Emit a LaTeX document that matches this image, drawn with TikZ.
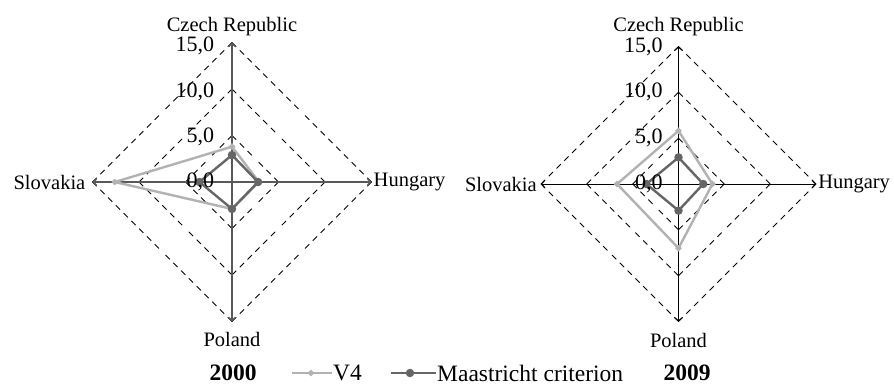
\documentclass[tikz,border=0pt]{standalone}
\usepackage{fontspec}
\setmainfont{Liberation Serif}
\usetikzlibrary{arrows.meta, positioning}

\tikzset{
  ring/.style={black, line width=0.9pt, dash pattern=on 6pt off 5pt},
  axisdark/.style={black!65, line width=1.6pt, ->},
  axisthin/.style={black, line width=1pt, ->},
  v4line/.style={black!30, line width=2.4pt, line join=round},
  mcline/.style={black!60, line width=2.4pt, line join=round},
  v4mark/.style={diamond, fill=black!30, inner sep=0pt, minimum size=7pt},
  mcmark/.style={circle, fill=black!60, inner sep=0pt, minimum size=8.5pt},
  val/.style={anchor=east, inner sep=0pt, font=\fontsize{22}{24}\selectfont},
  cty/.style={inner sep=1pt},
  key/.style={font=\fontsize{23.5}{26}\selectfont}
}
\usetikzlibrary{shapes.geometric}

\begin{document}
\begin{tikzpicture}[x=1pt, y=-1pt, font=\fontsize{20.5}{24}\selectfont,
    >={Straight Barb[length=3pt, width=7pt]}]
    \useasboundingbox (0,0) rectangle (894,388);

    % 2000
    \begin{scope}[shift={(232,182)}, x=9.3pt, y=9.3pt]
        \path (0,0) coordinate (l-o)
              (0,15) coordinate (l-n) (15,0) coordinate (l-e)
              (0,-15) coordinate (l-s) (-15,0) coordinate (l-w);
        \foreach \r in {5,10,15}
            \foreach \ang in {0,90,180,270} {
                \draw[ring] (\ang:\r) -- (\ang+45:{\r*0.7071});
                \draw[ring] (\ang:\r) -- (\ang-45:{\r*0.7071});
            }
        \draw[axisdark] (l-o) -- (l-n);
        \draw[axisdark] (l-o) -- (l-e);
        \draw[axisdark] (l-o) -- (l-s);
        \draw[axisdark] (l-o) -- (l-w);

        \path (0,3.8) coordinate (l-v4-cz) (2.9,0) coordinate (l-v4-hu)
              (0,-2.9) coordinate (l-v4-pl) (-12.6,0) coordinate (l-v4-sk);
        \path (0,2.9) coordinate (l-mc-cz) (2.8,0) coordinate (l-mc-hu)
              (0,-2.9) coordinate (l-mc-pl) (-3.5,0) coordinate (l-mc-sk);
        \draw[v4line] (l-v4-cz) -- (l-v4-hu) -- (l-v4-pl) -- (l-v4-sk) -- cycle;
        \node[v4mark] (l-v4-cz-m) at (l-v4-cz) {};
        \node[v4mark] (l-v4-hu-m) at (l-v4-hu) {};
        \node[v4mark] (l-v4-pl-m) at (l-v4-pl) {};
        \node[v4mark] (l-v4-sk-m) at (l-v4-sk) {};
        \draw[mcline] (l-mc-cz) -- (l-mc-hu) -- (l-mc-pl) -- (l-mc-sk) -- cycle;
        \node[mcmark] (l-mc-cz-m) at (l-mc-cz) {};
        \node[mcmark] (l-mc-hu-m) at (l-mc-hu) {};
        \node[mcmark] (l-mc-pl-m) at (l-mc-pl) {};
        \node[mcmark] (l-mc-sk-m) at (l-mc-sk) {};

        \node[val] (l-t15) at (-1.9,14.6) {15,0};
        \node[val] (l-t10) at (-1.9,9.7) {10,0};
        \node[val] (l-t5) at (-1.9,4.8) {5,0};
        \node[val] (l-t0) at (-1.9,0) {0,0};

        \node[cty, above = 5pt of l-n] (l-czech) {Czech Republic};
        \node[cty, right = 1pt of l-e] (l-hungary) {Hungary};
        \node[cty, below = 10pt of l-s] (l-poland) {Poland};
        \node[cty, left = 6pt of l-w] (l-slovakia) {Slovakia};
    \end{scope}

    % 2009
    \begin{scope}[shift={(678.5,184)}, x=9.17pt, y=9.17pt]
        \path (0,0) coordinate (r-o)
              (0,15) coordinate (r-n) (15,0) coordinate (r-e)
              (0,-15) coordinate (r-s) (-15,0) coordinate (r-w);
        \foreach \r in {5,10,15}
            \foreach \ang in {0,90,180,270} {
                \draw[ring] (\ang:\r) -- (\ang+45:{\r*0.7071});
                \draw[ring] (\ang:\r) -- (\ang-45:{\r*0.7071});
            }
        \draw[axisthin] (r-o) -- (r-n);
        \draw[axisthin] (r-o) -- (r-e);
        \draw[axisthin] (r-o) -- (r-s);
        \draw[axisthin] (r-o) -- (r-w);

        \path (0,5.8) coordinate (r-v4-cz) (3.7,0) coordinate (r-v4-hu)
              (0,-7.0) coordinate (r-v4-pl) (-6.7,0) coordinate (r-v4-sk);
        \path (0,2.9) coordinate (r-mc-cz) (2.7,0) coordinate (r-mc-hu)
              (0,-2.9) coordinate (r-mc-pl) (-3.5,0) coordinate (r-mc-sk);
        \draw[v4line] (r-v4-cz) -- (r-v4-hu) -- (r-v4-pl) -- (r-v4-sk) -- cycle;
        \node[v4mark] (r-v4-cz-m) at (r-v4-cz) {};
        \node[v4mark] (r-v4-hu-m) at (r-v4-hu) {};
        \node[v4mark] (r-v4-pl-m) at (r-v4-pl) {};
        \node[v4mark] (r-v4-sk-m) at (r-v4-sk) {};
        \draw[mcline] (r-mc-cz) -- (r-mc-hu) -- (r-mc-pl) -- (r-mc-sk) -- cycle;
        \node[mcmark] (r-mc-cz-m) at (r-mc-cz) {};
        \node[mcmark] (r-mc-hu-m) at (r-mc-hu) {};
        \node[mcmark] (r-mc-pl-m) at (r-mc-pl) {};
        \node[mcmark] (r-mc-sk-m) at (r-mc-sk) {};

        \node[val] (r-t15) at (-1.7,15) {15,0};
        \node[val] (r-t10) at (-1.7,10) {10,0};
        \node[val] (r-t5) at (-1.7,5) {5,0};
        \node[val] (r-t0) at (-1.7,0) {0,0};

        \node[cty, above = 9pt of r-n] (r-czech) {Czech Republic};
        \node[cty, right = 1pt of r-e] (r-hungary) {Hungary};
        \node[cty, below = 11pt of r-s] (r-poland) {Poland};
        \node[cty, left = 3pt of r-w] (r-slovakia) {Slovakia};
    \end{scope}

    % legend
    \node[key, font=\fontsize{23.5}{26}\selectfont\bfseries] (yr-l) at (233,373) {2000};
    \path (292,373) coordinate (v4-a);
    \node[key, anchor=west, inner sep=1pt] (v4-lbl) at (332,373) {V4};
    \draw[v4line] (v4-a) -- (v4-lbl.west);
    \node[v4mark] (v4-key) at (311,373) {};
    \path (391,373) coordinate (mc-a);
    \node[key, anchor=west, inner sep=1pt] (mc-lbl) at (436,373) {Maastricht criterion};
    \draw[mcline] (mc-a) -- (mc-lbl.west);
    \node[mcmark] (mc-key) at (410,373) {};
    \node[key, font=\fontsize{23.5}{26}\selectfont\bfseries] (yr-r) at (687,373) {2009};
\end{tikzpicture}
\end{document}
